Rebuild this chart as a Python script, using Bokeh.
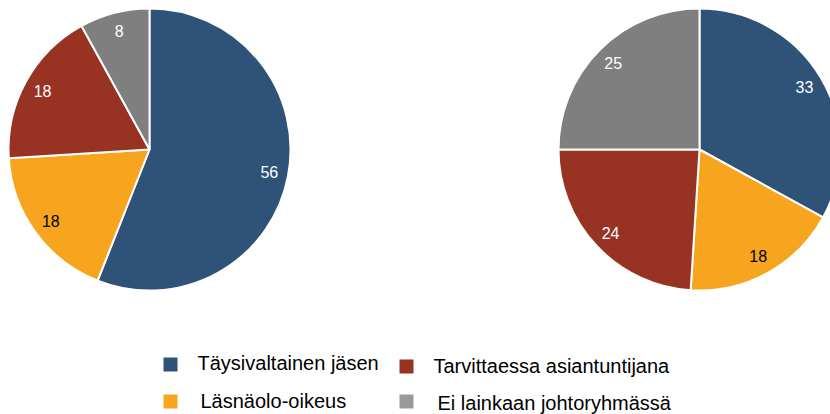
import numpy as np
from bokeh.plotting import figure
from bokeh.models import ColumnDataSource, Range1d
from bokeh.core.properties import value
from bokeh.embed import file_html
from bokeh.resources import INLINE

# ---- data ----
categories = ["Täysivaltainen jäsen", "Läsnäolo-oikeus",
              "Tarvittaessa asiantuntijana", "Ei lainkaan johtoryhmässä"]
left_values = [56, 18, 18, 8]
right_values = [33, 18, 24, 25]
slice_colors = ["#2F5279", "#F7A41E", "#983323", "#7F7F7F"]
legend_colors = ["#2F5279", "#F7A41E", "#983323", "#9A9A9A"]
label_colors = ["white", "black", "white", "white"]

# ---- layout (picture pixel coords -> data coords, 1 unit = 1 px) ----
W, H = 830, 414


def px(x):
    return x


def py(y):
    return H - y


R = 141
FONT = value("Liberation Sans")

p = figure(width=W, height=H, x_range=Range1d(0, W), y_range=Range1d(0, H),
           output_backend="svg", toolbar_location=None, min_border=0,
           x_axis_location=None, y_axis_location=None)
p.grid.visible = False
p.outline_line_color = None
p.background_fill_color = "white"
p.border_fill_color = "white"


def draw_pie(cx, cy, vals):
    frac = np.array(vals, dtype=float) / sum(vals)
    cum = np.concatenate([[0.0], np.cumsum(frac)])
    start = np.pi / 2 - 2 * np.pi * cum[:-1]
    end = np.pi / 2 - 2 * np.pi * cum[1:]
    mid = (start + end) / 2
    src = ColumnDataSource(dict(
        start=start, end=end, color=slice_colors,
        lx=cx + 0.865 * R * np.cos(mid), ly=cy + 0.865 * R * np.sin(mid),
        label=[str(v) for v in vals], lcolor=label_colors))
    p.wedge(x=cx, y=cy, radius=R, start_angle="start", end_angle="end",
            direction="clock", fill_color="color", line_color="white",
            line_width=2, source=src)
    p.text(x="lx", y="ly", text="label", text_color="lcolor",
           text_align="center", text_baseline="middle",
           text_font=FONT, text_font_size="16px", source=src)


draw_pie(px(149), py(149), left_values)
draw_pie(px(699), py(149), right_values)

# ---- legend ----
col_x = [170, 406]   # square centers (picture px)
row_y = [364, 401]
leg = ColumnDataSource(dict(
    sx=[px(col_x[0]), px(col_x[0]), px(col_x[1]), px(col_x[1])],
    sy=[py(row_y[0]), py(row_y[1]), py(row_y[0] + 2), py(row_y[1])],
    tx=[px(col_x[0] + 27), px(col_x[0] + 30), px(col_x[1] + 27), px(col_x[1] + 31)],
    ty=[py(row_y[0] - 2), py(row_y[1] - 1), py(row_y[0] + 1), py(row_y[1] + 1)],
    color=legend_colors, text=categories))
p.rect(x="sx", y="sy", width=14, height=14, fill_color="color",
       line_color=None, source=leg)
p.text(x="tx", y="ty", text="text", text_color="#000000",
       text_align="left", text_baseline="middle",
       text_font=FONT, text_font_size="20px", source=leg)

open("out.html", "w").write(file_html(p, INLINE))
